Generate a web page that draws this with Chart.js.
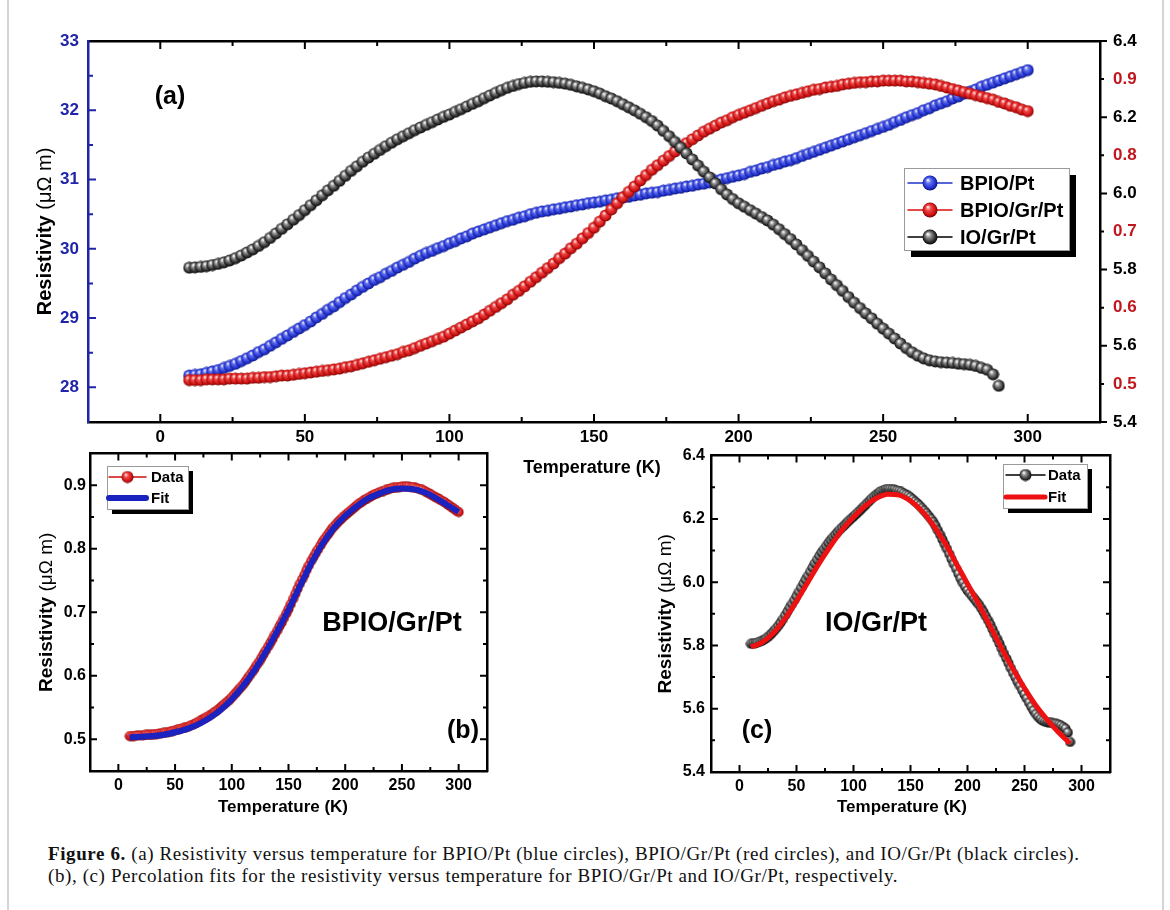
<!DOCTYPE html>
<html>
<head>
<meta charset="utf-8">
<script src="https://cdn.jsdelivr.net/npm/chart.js@4.4.1/dist/chart.umd.min.js"></script>
<style>
  html, body { margin: 0; padding: 0; background: #fff; }
  #page { position: relative; width: 1170px; height: 910px; overflow: hidden; }
  #frame { position: absolute; left: 7px; top: -2px; width: 1153px; height: 1000px; border: 2px solid #d4d4d4; }
  canvas { position: absolute; }
  #cA { left: 0; top: 0; }
  #cB { left: 0; top: 440px; }
  #cC { left: 640px; top: 440px; }
  #cap { position: absolute; left: 48px; top: 843px; font-family: "Liberation Serif", "DejaVu Serif", serif;
         font-size: 19px; letter-spacing: 0.6px; line-height: 22px; white-space: nowrap; color: #111; }
</style>
</head>
<body>
<div id="page">
  <div id="frame"></div>
  <canvas id="cA" width="1170" height="480"></canvas>
  <canvas id="cB" width="500" height="380"></canvas>
  <canvas id="cC" width="480" height="380"></canvas>
  <div id="cap"><b>Figure 6.</b> (a) Resistivity versus temperature for BPIO/Pt (blue circles), BPIO/Gr/Pt (red circles), and IO/Gr/Pt (black circles).<br>(b), (c) Percolation fits for the resistivity versus temperature for BPIO/Gr/Pt and IO/Gr/Pt, respectively.</div>
</div>
<script>
// temperature grid (K)
const temps = [10,12,14,16,18,20,22,24,26,28,30,32,34,36,38,40,42,44,46,48,
  50,52,54,56,58,60,62,64,66,68,70,72,74,76,78,80,82,84,86,88,
  90,92,94,96,98,100,102,104,106,108,110,112,114,116,118,120,122,124,126,128,
  130,132,134,136,138,140,142,144,146,148,150,152,154,156,158,160,162,164,166,168,
  170,172,174,176,178,180,182,184,186,188,190,192,194,196,198,200,202,204,206,208,
  210,212,214,216,218,220,222,224,226,228,230,232,234,236,238,240,242,244,246,248,
  250,252,254,256,258,260,262,264,266,268,270,272,274,276,278,280,282,284,286,288,
  290,292,294,296,298,300];

// BPIO/Pt, left axis (µΩ m)
const bpioPt = [28.17,28.18,28.19,28.21,28.23,28.25,28.28,28.31,28.34,28.38,
  28.42,28.46,28.51,28.55,28.60,28.65,28.70,28.75,28.80,28.85,
  28.90,28.95,29.01,29.06,29.12,29.17,29.23,29.29,29.34,29.40,
  29.45,29.50,29.55,29.59,29.64,29.68,29.73,29.77,29.81,29.86,
  29.90,29.94,29.97,30.01,30.04,30.08,30.11,30.15,30.18,30.22,
  30.25,30.28,30.31,30.34,30.37,30.40,30.42,30.45,30.47,30.50,
  30.52,30.54,30.55,30.57,30.58,30.60,30.61,30.63,30.64,30.66,
  30.67,30.68,30.70,30.71,30.73,30.74,30.75,30.77,30.78,30.80,
  30.81,30.82,30.84,30.85,30.87,30.88,30.90,30.91,30.93,30.94,
  30.96,30.98,31.00,31.02,31.04,31.06,31.08,31.11,31.13,31.16,
  31.18,31.21,31.23,31.26,31.28,31.31,31.34,31.37,31.40,31.43,
  31.46,31.49,31.52,31.55,31.58,31.61,31.64,31.67,31.70,31.73,
  31.76,31.79,31.83,31.86,31.90,31.93,31.96,32.00,32.03,32.07,
  32.10,32.13,32.17,32.20,32.24,32.27,32.30,32.34,32.37,32.40,
  32.43,32.46,32.49,32.52,32.55,32.58];

// BPIO/Gr/Pt, red right axis
const bpioGrPt = [0.505,0.505,0.505,0.506,0.506,0.506,0.506,0.507,0.507,0.507,
  0.507,0.508,0.508,0.509,0.509,0.510,0.511,0.511,0.512,0.513,
  0.514,0.515,0.516,0.517,0.518,0.519,0.520,0.522,0.523,0.525,
  0.527,0.529,0.531,0.533,0.535,0.537,0.539,0.542,0.544,0.547,
  0.550,0.553,0.556,0.559,0.562,0.566,0.570,0.574,0.578,0.582,
  0.586,0.591,0.596,0.601,0.606,0.611,0.617,0.622,0.628,0.634,
  0.640,0.646,0.652,0.658,0.665,0.671,0.678,0.684,0.691,0.698,
  0.705,0.713,0.721,0.729,0.737,0.745,0.752,0.759,0.767,0.774,
  0.781,0.787,0.793,0.799,0.805,0.811,0.816,0.821,0.826,0.831,
  0.835,0.839,0.843,0.846,0.850,0.853,0.856,0.859,0.862,0.865,
  0.868,0.871,0.873,0.876,0.878,0.880,0.882,0.884,0.886,0.887,
  0.889,0.890,0.891,0.893,0.894,0.895,0.896,0.896,0.897,0.897,
  0.898,0.898,0.898,0.898,0.897,0.897,0.896,0.895,0.894,0.893,
  0.891,0.889,0.887,0.885,0.883,0.881,0.879,0.877,0.875,0.873,
  0.870,0.868,0.865,0.863,0.860,0.858];

// IO/Gr/Pt, black right axis (10 - 290 K)
const ioGrPt = [5.805,5.806,5.807,5.809,5.812,5.815,5.819,5.824,5.830,5.837,
  5.845,5.853,5.862,5.872,5.883,5.895,5.907,5.919,5.931,5.943,
  5.956,5.969,5.982,5.995,6.008,6.020,6.033,6.046,6.059,6.071,
  6.083,6.094,6.104,6.114,6.124,6.133,6.142,6.150,6.158,6.166,
  6.173,6.180,6.187,6.194,6.201,6.207,6.214,6.221,6.228,6.235,
  6.242,6.250,6.257,6.264,6.271,6.277,6.282,6.287,6.290,6.293,
  6.294,6.294,6.293,6.292,6.290,6.288,6.285,6.281,6.277,6.273,
  6.268,6.262,6.255,6.249,6.242,6.234,6.226,6.218,6.209,6.200,
  6.190,6.178,6.164,6.150,6.135,6.120,6.105,6.089,6.073,6.057,
  6.042,6.026,6.011,5.997,5.985,5.974,5.965,5.956,5.947,5.938,
  5.929,5.918,5.906,5.893,5.880,5.866,5.851,5.836,5.821,5.806,
  5.790,5.774,5.759,5.744,5.728,5.713,5.699,5.685,5.672,5.658,
  5.645,5.632,5.619,5.606,5.594,5.583,5.574,5.567,5.562,5.559,
  5.557,5.556,5.555,5.553,5.552,5.550,5.547,5.542,5.537,5.525,
  5.495];

// percolation fits
const fitTemps = [10,20,30,40,50,60,70,80,90,100,110,120,130,140,150,
  160,170,180,190,200,210,220,230,240,250,260,270,280,290,300];
const fitBpioGrPt = [0.503,0.504,0.505,0.507,0.511,0.516,0.523,0.533,0.546,0.563,
  0.584,0.609,0.638,0.670,0.704,0.741,0.777,0.808,0.833,0.852,
  0.867,0.879,0.887,0.893,0.895,0.894,0.889,0.880,0.869,0.858];
const fitIoGrPt = [5.795,5.81,5.84,5.885,5.94,6.0,6.06,6.115,6.165,6.205,
  6.24,6.265,6.278,6.275,6.257,6.225,6.18,6.125,6.06,5.995,
  5.93,5.86,5.79,5.725,5.665,5.61,5.565,5.525,5.49];

const labels = ['BPIO/Pt', 'BPIO/Gr/Pt', 'IO/Gr/Pt'];

const F = '"Liberation Sans", Arial, sans-serif';
const BLUE = '#1f24a8';
const RED = '#c0161c';
const BLK_RANGE = [5.4, 6.4], RED_RANGE = [0.45, 0.95];

// shiny ball used as point style
function ball(d, c) {
  const cv = document.createElement('canvas');
  cv.width = cv.height = d;
  const g = cv.getContext('2d'), r = d / 2;
  const gr = g.createRadialGradient(r * 0.72, r * 0.62, r * 0.05, r, r, r);
  gr.addColorStop(0, c[0]);
  gr.addColorStop(0.3, c[1]);
  gr.addColorStop(0.75, c[2]);
  gr.addColorStop(1, c[3]);
  g.fillStyle = gr;
  g.beginPath();
  g.arc(r, r, r - 0.5, 0, Math.PI * 2);
  g.fill();
  return cv;
}
const cBlue = ['#f0f2ff', '#6270f0', '#1f30cc', '#080c60'];
const cRed = ['#ffe4e4', '#f04a4a', '#cc1010', '#580000'];
const cBlack = ['#ffffff', '#909090', '#2a2a2a', '#000000'];

function pairs(xs, ys) { return ys.map((y, i) => ({ x: xs[i], y })); }

// tick marks drawn inside / outside the frame
const tickMarks = {
  id: 'tickMarks',
  afterDatasetsDraw(chart) {
    const ctx = chart.ctx, a = chart.chartArea;
    for (const id in chart.scales) {
      const s = chart.scales[id], m = s.options.marks;
      if (!m) continue;
      ctx.save();
      ctx.strokeStyle = m.color || '#000';
      ctx.lineWidth = 2;
      ctx.beginPath();
      const eps = (s.max - s.min) * 1e-6;
      for (const t of s.ticks) {
        const v = t.value;
        if (!m.edges && (Math.abs(v - s.min) < eps || Math.abs(v - s.max) < eps)) continue;
        const q = v / m.major, major = Math.abs(q - Math.round(q)) < 1e-6;
        const len = (major ? m.len : m.minor) * (m.dir === 'out' ? -1 : 1);
        const p = s.getPixelForValue(v);
        if (s.position === 'left') { ctx.moveTo(a.left, p); ctx.lineTo(a.left + len, p); }
        else if (s.position === 'right') { ctx.moveTo(a.right, p); ctx.lineTo(a.right - len, p); }
        else if (s.position === 'top') { ctx.moveTo(p, a.top); ctx.lineTo(p, a.top + len); }
        else { ctx.moveTo(p, a.bottom); ctx.lineTo(p, a.bottom - len); }
      }
      ctx.stroke();
      ctx.restore();
    }
  }
};
Chart.register(tickMarks);

// free text and the two-weight y title
function notes(items, yTitle) {
  return {
    id: 'notes',
    afterDraw(chart) {
      const ctx = chart.ctx;
      ctx.save();
      ctx.fillStyle = '#000';
      ctx.textAlign = 'center';
      ctx.textBaseline = 'middle';
      items.forEach(it => {
        ctx.font = 'bold ' + it.size + 'px ' + F;
        ctx.fillText(it.text, it.x, it.y);
      });
      const a = chart.chartArea;
      ctx.translate(yTitle.x, (a.top + a.bottom) / 2);
      ctx.rotate(-Math.PI / 2);
      ctx.textAlign = 'left';
      ctx.font = 'bold ' + yTitle.size + 'px ' + F;
      const w1 = ctx.measureText('Resistivity').width;
      ctx.font = yTitle.size + 'px ' + F;
      const w2 = ctx.measureText(' (\u03bc\u03a9 m)').width;
      const x0 = -(w1 + w2) / 2;
      ctx.font = 'bold ' + yTitle.size + 'px ' + F;
      ctx.fillText('Resistivity', x0, 0);
      ctx.font = yTitle.size + 'px ' + F;
      ctx.fillText(' (\u03bc\u03a9 m)', x0 + w1, 0);
      ctx.restore();
    }
  };
}

// framed legend with a drop shadow
function boxLegend(cfg) {
  return {
    id: 'boxLegend',
    afterDraw(chart) {
      const ctx = chart.ctx;
      ctx.save();
      ctx.fillStyle = '#000';
      ctx.fillRect(cfg.x + cfg.shadow, cfg.y + cfg.shadow, cfg.w, cfg.h);
      ctx.fillStyle = '#fff';
      ctx.fillRect(cfg.x, cfg.y, cfg.w, cfg.h);
      ctx.strokeStyle = '#9a9a9a';
      ctx.lineWidth = 1;
      ctx.strokeRect(cfg.x + 0.5, cfg.y + 0.5, cfg.w, cfg.h);
      ctx.font = 'bold ' + cfg.size + 'px ' + F;
      ctx.textBaseline = 'middle';
      cfg.items.forEach((it, i) => {
        const ds = chart.data.datasets[it.ds];
        const cy = cfg.y + cfg.first + i * cfg.row;
        ctx.strokeStyle = ds.borderColor;
        ctx.lineWidth = it.ball ? 1.5 : ds.borderWidth;
        ctx.lineCap = 'round';
        ctx.beginPath();
        ctx.moveTo(cfg.x0, cy);
        ctx.lineTo(cfg.x1, cy);
        ctx.stroke();
        if (it.ball) ctx.drawImage(it.ball, (cfg.x0 + cfg.x1) / 2 - it.ball.width / 2, cy - it.ball.height / 2);
        ctx.fillStyle = '#000';
        ctx.fillText(ds.label, cfg.tx, cy + 1);
      });
      ctx.restore();
    }
  };
}

function axis(pos, min, max, step, size, marks, tk, border) {
  const horiz = pos === 'top' || pos === 'bottom';
  return {
    type: 'linear', position: pos, min, max, marks,
    grid: { drawOnChartArea: false, drawTicks: false },
    border: { color: border || '#000', width: 2.5 },
    ticks: Object.assign({ stepSize: step, autoSkip: false, maxRotation: 0, display: !!tk }, tk || {}),
    afterFit: s => { if (horiz) s.height = size; else s.width = size; }
  };
}

const xLabel = v => (Math.round(v) % 50 === 0 && v >= 0 && v <= 300) ? String(Math.round(v)) : '';
const baseOpts = {
  responsive: false, animation: false, events: [],
  layout: { padding: 0 },
  plugins: { legend: { display: false }, tooltip: { enabled: false } }
};

// ---- (a) ----
const toRed = v => RED_RANGE[0] + (v - BLK_RANGE[0]) * (RED_RANGE[1] - RED_RANGE[0]) / (BLK_RANGE[1] - BLK_RANGE[0]);
const isRedTick = v => Math.round((v - BLK_RANGE[0]) * 10) % 2 === 1;
const fA = { family: F, size: 17, weight: 'bold' };
new Chart(document.getElementById('cA'), {
  type: 'scatter',
  data: {
    datasets: [
      { label: labels[0], data: pairs(temps, bpioPt), xAxisID: 'x', yAxisID: 'yBlue', pointStyle: ball(13, cBlue), pointRadius: 6, borderColor: '#2233cc', order: 3 },
      { label: labels[1], data: pairs(temps, bpioGrPt), xAxisID: 'x', yAxisID: 'yRed', pointStyle: ball(13, cRed), pointRadius: 6, borderColor: '#dd1111', order: 2 },
      { label: labels[2], data: pairs(temps, ioGrPt), xAxisID: 'x', yAxisID: 'yBlack', pointStyle: ball(13, cBlack), pointRadius: 6, borderColor: '#000', order: 1 }
    ]
  },
  options: Object.assign({}, baseOpts, {
    scales: {
      x: axis('bottom', -25, 325, 25, 58, { dir: 'in', major: 50, len: 8, minor: 5 },
        { padding: 5, color: '#000', font: fA, callback: xLabel }),
      xTop: axis('top', -25, 325, 25, 41, { dir: 'in', major: 50, len: 8, minor: 5 }),
      yBlue: axis('left', 27.5, 33, 0.5, 88, { dir: 'in', major: 1, len: 8, minor: 5, color: BLUE },
        { padding: 9, color: BLUE, font: fA,
          callback: v => Math.abs(v - Math.round(v)) < 1e-6 ? String(Math.round(v)) : '' }, BLUE),
      yBlack: axis('right', BLK_RANGE[0], BLK_RANGE[1], 0.1, 70, { dir: 'out', major: 0.2, len: 7, minor: 4, edges: true },
        { padding: 13, font: fA,
          color: c => isRedTick(c.tick.value) ? RED : '#000',
          callback: v => (isRedTick(v) ? toRed(v) : v).toFixed(1) }),
      yRed: { type: 'linear', position: 'right', display: false, min: RED_RANGE[0], max: RED_RANGE[1] }
    }
  }),
  plugins: [
    notes([{ text: '(a)', x: 170, y: 97, size: 25 }, { text: 'Temperature (K)', x: 592, y: 468, size: 18 }],
      { x: 45, size: 20 }),
    boxLegend({ x: 904, y: 168, w: 165, h: 82, shadow: 7, first: 15, row: 27, x0: 908, x1: 952, tx: 960, size: 20,
      items: [{ ds: 0, ball: ball(16, cBlue) }, { ds: 1, ball: ball(16, cRed) }, { ds: 2, ball: ball(16, cBlack) }] })
  ]
});

// ---- (b) ----
const fB = { family: F, size: 16, weight: 'bold' };
new Chart(document.getElementById('cB'), {
  type: 'scatter',
  data: {
    datasets: [
      { label: 'Data', data: pairs(temps, bpioGrPt), pointStyle: ball(11, cRed), pointRadius: 5, borderColor: '#cc1111', order: 2 },
      { label: 'Fit', data: pairs(fitTemps, fitBpioGrPt), showLine: true, pointRadius: 0, borderColor: '#1a22c0', borderWidth: 6,
        cubicInterpolationMode: 'monotone', order: 1 }
    ]
  },
  options: Object.assign({}, baseOpts, {
    scales: {
      x: axis('bottom', -25, 325, 25, 49, { dir: 'in', major: 50, len: 7, minor: 4 },
        { padding: 5, color: '#000', font: fB, callback: xLabel }),
      xTop: axis('top', -25, 325, 25, 9, { dir: 'in', major: 50, len: 7, minor: 4 }),
      y: axis('left', 0.45, 0.95, 0.05, 90, { dir: 'in', major: 0.1, len: 7, minor: 4 },
        { padding: 4, color: '#000', font: fB,
          callback: v => Math.round(v * 100) % 10 === 0 ? v.toFixed(1) : '' }),
      yRight: axis('right', 0.45, 0.95, 0.05, 13, { dir: 'in', major: 0.1, len: 7, minor: 4 })
    }
  }),
  plugins: [
    notes([{ text: 'BPIO/Gr/Pt', x: 392, y: 184, size: 27 }, { text: '(b)', x: 463, y: 291, size: 25 },
      { text: 'Temperature (K)', x: 283, y: 367, size: 17 }], { x: 47, size: 19 }),
    boxLegend({ x: 107, y: 26, w: 81, h: 43, shadow: 5, first: 11, row: 21, x0: 109, x1: 146, tx: 151, size: 15,
      items: [{ ds: 0, ball: ball(13, cRed) }, { ds: 1 }] })
  ]
});

// ---- (c) ----
new Chart(document.getElementById('cC'), {
  type: 'scatter',
  data: {
    datasets: [
      { label: 'Data', data: pairs(temps, ioGrPt), pointStyle: ball(11, cBlack), pointRadius: 5, borderColor: '#000', order: 2 },
      { label: 'Fit', data: pairs(fitTemps, fitIoGrPt), showLine: true, pointRadius: 0, borderColor: '#ee1111', borderWidth: 5,
        cubicInterpolationMode: 'monotone', order: 1 }
    ]
  },
  options: Object.assign({}, baseOpts, {
    scales: {
      x: axis('bottom', -25, 325, 25, 48, { dir: 'in', major: 50, len: 7, minor: 4 },
        { padding: 5, color: '#000', font: fB, callback: xLabel }),
      xTop: axis('top', -25, 325, 25, 10, { dir: 'in', major: 50, len: 7, minor: 4 }),
      y: axis('left', 5.4, 6.4, 0.1, 71, { dir: 'in', major: 0.2, len: 7, minor: 4 },
        { padding: 6, color: '#000', font: fB,
          callback: v => Math.round(v * 10) % 2 === 0 ? v.toFixed(1) : '' }),
      yRight: axis('right', 5.4, 6.4, 0.1, 10, { dir: 'in', major: 0.2, len: 7, minor: 4 })
    }
  }),
  plugins: [
    notes([{ text: 'IO/Gr/Pt', x: 236, y: 184, size: 27 }, { text: '(c)', x: 117, y: 291, size: 25 },
      { text: 'Temperature (K)', x: 262, y: 367, size: 17 }], { x: 26, size: 19 }),
    boxLegend({ x: 363, y: 24, w: 84, h: 44, shadow: 5, first: 11, row: 22, x0: 366, x1: 405, tx: 408, size: 15,
      items: [{ ds: 0, ball: ball(13, cBlack) }, { ds: 1 }] })
  ]
});
</script>
</body>
</html>
